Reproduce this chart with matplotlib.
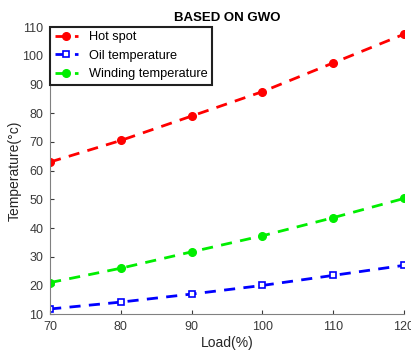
import matplotlib
matplotlib.use('Agg')
import matplotlib.pyplot as plt

plt.rcParams['font.family'] = ['Liberation Sans', 'DejaVu Sans']

load = [70, 80, 90, 100, 110, 120]
hot_spot = [63.0, 70.5, 79.0, 87.5, 97.5, 107.5]
oil_temp = [11.8, 14.2, 17.0, 20.0, 23.5, 27.0]
winding_temp = [21.0, 26.0, 31.7, 37.3, 43.6, 50.3]

fig = plt.figure(figsize=(4.11, 3.51), dpi=100)
ax = fig.add_axes([0.122, 0.105, 0.861, 0.818])

ax.plot(load, hot_spot, '--o', color='#ff0000', lw=2, ms=5.5, dashes=(4, 3), label='Hot spot')
ax.plot(load, oil_temp, '--s', color='#0000ff', lw=2, ms=5, dashes=(4, 3),
        markerfacecolor='white', markeredgewidth=1.2, label='Oil temperature')
ax.plot(load, winding_temp, '--o', color='#00ee00', lw=2, ms=5.5, dashes=(4, 3), label='Winding temperature')

ax.set_xlim(70, 120)
ax.set_ylim(10, 110)
ax.set_xticks(load)
ax.set_yticks(range(10, 111, 10))
ax.tick_params(direction='in', labelsize=9, colors='#3a3a3a', length=3, pad=5)
for s in ['top', 'right']:
    ax.spines[s].set_visible(False)
for s in ['left', 'bottom']:
    ax.spines[s].set_color('#808080')

ax.set_xlabel('Load(%)', fontsize=10, color='#262626', labelpad=2)
ax.set_ylabel('Temperature(°c)', fontsize=10, color='#262626', labelpad=0)
ax.set_title('BASED ON GWO', fontsize=9.5, fontweight='bold', pad=4)

leg = ax.legend(loc='upper left', fontsize=9.2, fancybox=False, framealpha=1,
                borderaxespad=0, handlelength=1.8, handletextpad=0.9, labelspacing=0.5,
                borderpad=0.35)
leg.get_frame().set_edgecolor('#202020')
leg.get_frame().set_linewidth(1.5)

fig.savefig('out.png', dpi=100)
